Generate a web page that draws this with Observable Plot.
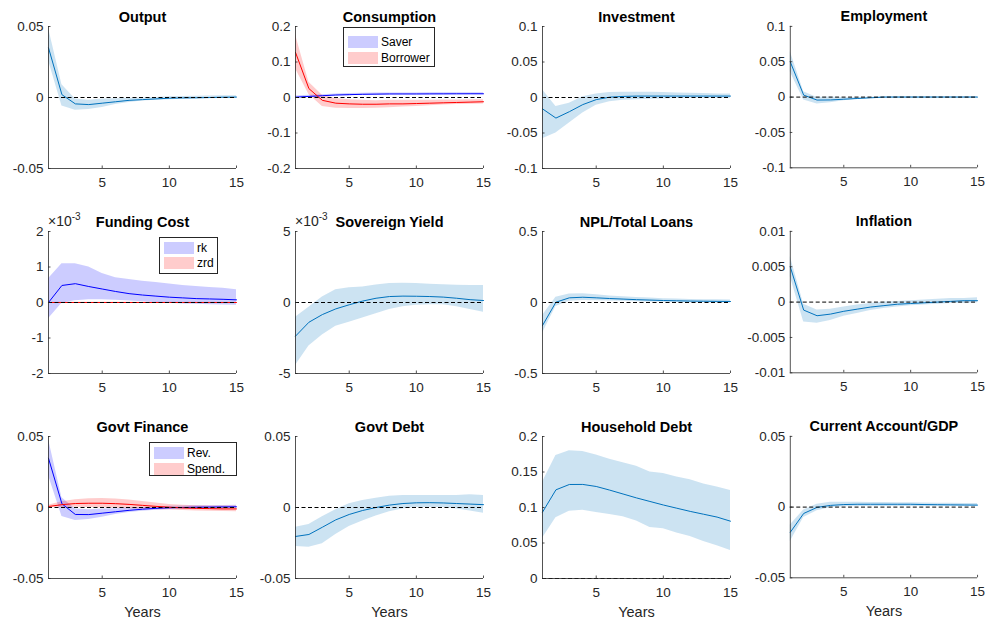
<!DOCTYPE html>
<html><head><meta charset="utf-8">
<script src="https://cdn.jsdelivr.net/npm/d3@7"></script>
<script src="https://cdn.jsdelivr.net/npm/@observablehq/plot@0.6"></script>
<style>
body{margin:0;background:#fff;}
#chart{position:relative;width:987px;height:624px;font-family:"Liberation Sans",Arial,Helvetica,sans-serif;overflow:hidden;background:#fff;}
.cell{position:absolute;}
.legend{position:absolute;box-sizing:border-box;border:1px solid #262626;background:#fff;font-size:12px;color:#000;}
.legend .patch{position:absolute;left:4px;width:30px;height:12px;}
.legend .lab{position:absolute;left:37px;line-height:14px;white-space:nowrap;}
.expo{position:absolute;font-size:14px;line-height:14px;color:#262626;white-space:nowrap;}
.expo sup{font-size:10px;vertical-align:6px;line-height:0;}
</style></head>
<body><div id="chart"></div>
<script>
const years = [1,2,3,4,5,6,7,8,9,10,11,12,13,14,15];
const xTicks = [5,10,15];

// Output
const outputMid = [0.035,0.002,-0.0045,-0.005,-0.004,-0.003,-0.002,-0.0015,-0.001,-0.0005,-0.0003,-0.0002,0,0.0002,0.0003];
const outputLo  = [0.026,-0.006,-0.009,-0.0085,-0.007,-0.005,-0.0035,-0.0025,-0.002,-0.0015,-0.0012,-0.001,-0.0008,-0.0007,-0.0007];
const outputHi  = [0.049,0.009,-0.001,-0.002,-0.001,-0.0008,-0.0005,-0.0003,0,0.0005,0.0007,0.0008,0.001,0.0012,0.0013];
// Consumption
const saverMid = [0.001,0.003,0.005,0.007,0.008,0.009,0.0095,0.01,0.01,0.01,0.0102,0.0103,0.0104,0.0105,0.0105];
const saverLo  = [-0.002,0,0.002,0.004,0.005,0.006,0.0065,0.007,0.007,0.007,0.0072,0.0073,0.0074,0.0075,0.0075];
const saverHi  = [0.004,0.006,0.008,0.010,0.011,0.012,0.0125,0.013,0.013,0.013,0.0132,0.0133,0.0134,0.0135,0.0135];
const borrowerMid = [0.127,0.025,-0.008,-0.016,-0.018,-0.019,-0.019,-0.018,-0.018,-0.017,-0.016,-0.015,-0.014,-0.013,-0.012];
const borrowerLo  = [0.081,0.0085,-0.025,-0.030,-0.031,-0.031,-0.030,-0.029,-0.027,-0.025,-0.023,-0.021,-0.020,-0.019,-0.018];
const borrowerHi  = [0.177,0.043,0.006,-0.003,-0.006,-0.008,-0.009,-0.008,-0.008,-0.008,-0.008,-0.007,-0.007,-0.006,-0.006];
// Investment
const investMid = [-0.016,-0.029,-0.02,-0.01,-0.003,0.0005,0.0015,0.002,0.002,0.002,0.002,0.002,0.002,0.002,0.002];
const investLo  = [-0.058,-0.05,-0.036,-0.022,-0.011,-0.006,-0.004,-0.003,-0.0025,-0.002,-0.0015,-0.0012,-0.001,-0.001,-0.001];
const investHi  = [0.011,-0.0127,-0.008,0.001,0.005,0.007,0.0075,0.0075,0.0075,0.007,0.0065,0.006,0.0055,0.005,0.005];
// Employment
const employMid = [0.0497,0.0028,-0.0042,-0.004,-0.003,-0.002,-0.001,0,0,0,0,0,0,0,0];
const employLo  = [0.0356,-0.004,-0.0099,-0.008,-0.005,-0.003,-0.0018,-0.001,-0.0008,-0.0006,-0.0005,-0.0005,-0.0005,-0.0005,-0.0005];
const employHi  = [0.064,0.0075,-0.0005,0,-0.0008,-0.0007,-0.0003,0.0005,0.0007,0.0007,0.0007,0.0007,0.0007,0.0007,0.0007];
// Funding Cost (x10^-3)
const rkMid = [0,0.48e-3,0.53e-3,0.45e-3,0.38e-3,0.31e-3,0.25e-3,0.21e-3,0.18e-3,0.15e-3,0.13e-3,0.11e-3,0.10e-3,0.09e-3,0.075e-3];
const rkLo  = [-0.46e-3,-0.02e-3,0.05e-3,0.08e-3,0.08e-3,0.06e-3,0.04e-3,0.02e-3,0,-0.02e-3,-0.04e-3,-0.05e-3,-0.06e-3,-0.07e-3,-0.08e-3];
const rkHi  = [0.67e-3,1.09e-3,1.09e-3,1.0e-3,0.82e-3,0.70e-3,0.65e-3,0.60e-3,0.56e-3,0.52e-3,0.48e-3,0.45e-3,0.42e-3,0.40e-3,0.36e-3];
const zrdMid = [0,0,0,0,0,0,0,0,0,0,0,0,0,0,0];
const zrdLo  = [-0.01e-3,-0.01e-3,-0.01e-3,-0.01e-3,-0.01e-3,-0.01e-3,-0.01e-3,-0.01e-3,-0.01e-3,-0.01e-3,-0.01e-3,-0.01e-3,-0.01e-3,-0.01e-3,-0.01e-3];
const zrdHi  = [0.01e-3,0.01e-3,0.01e-3,0.01e-3,0.01e-3,0.01e-3,0.01e-3,0.01e-3,0.01e-3,0.01e-3,0.01e-3,0.01e-3,0.01e-3,0.01e-3,0.01e-3];
// Sovereign Yield (x10^-3)
const sovMid = [-2.37e-3,-1.39e-3,-0.85e-3,-0.45e-3,-0.16e-3,0.1e-3,0.3e-3,0.42e-3,0.45e-3,0.44e-3,0.42e-3,0.38e-3,0.3e-3,0.2e-3,0.14e-3];
const sovLo  = [-4.43e-3,-3.07e-3,-2.28e-3,-1.67e-3,-1.39e-3,-1.1e-3,-0.8e-3,-0.5e-3,-0.3e-3,-0.2e-3,-0.15e-3,-0.15e-3,-0.3e-3,-0.5e-3,-0.68e-3];
const sovHi  = [-1.03e-3,-0.33e-3,0.38e-3,0.89e-3,1.03e-3,1.1e-3,1.24e-3,1.33e-3,1.36e-3,1.33e-3,1.28e-3,1.25e-3,1.22e-3,1.2e-3,1.2e-3];
// NPL/Total Loans
const nplMid = [-0.162,0.002,0.033,0.037,0.033,0.028,0.024,0.02,0.017,0.014,0.012,0.01,0.009,0.008,0.007];
const nplLo  = [-0.216,-0.028,0.008,0.014,0.012,0.01,0.008,0.006,0.004,0.002,0,-0.001,-0.002,-0.003,-0.003];
const nplHi  = [-0.092,0.037,0.06,0.062,0.055,0.046,0.04,0.035,0.031,0.027,0.024,0.022,0.02,0.019,0.018];
// Inflation
const inflMid = [0.00497,-0.00113,-0.00193,-0.0017,-0.0013,-0.001,-0.0007,-0.0005,-0.0003,-0.0002,-0.0001,0,0.0001,0.0002,0.0002];
const inflLo  = [0.0036,-0.0028,-0.003,-0.0026,-0.002,-0.0016,-0.0012,-0.0009,-0.0007,-0.0005,-0.0004,-0.0003,-0.0002,-0.0002,-0.0001];
const inflHi  = [0.0064,-0.0003,-0.0011,-0.001,-0.0007,-0.0004,-0.0002,0,0.0001,0.0002,0.0003,0.0004,0.0005,0.0005,0.0006];
// Govt Finance
const revMid = [0.0347,0.0026,-0.0049,-0.005,-0.004,-0.003,-0.002,-0.0012,-0.0006,-0.0002,0,0.0002,0.0003,0.0004,0.0005];
const revLo  = [0.0225,-0.0063,-0.0092,-0.0085,-0.0068,-0.005,-0.0036,-0.0026,-0.0019,-0.0014,-0.0011,-0.0009,-0.0008,-0.0007,-0.0006];
const revHi  = [0.048,0.0068,-0.001,-0.0015,-0.001,-0.0008,-0.0004,0,0.0004,0.0008,0.001,0.0012,0.0013,0.0014,0.0015];
const spendMid = [0.0007,0.002,0.0028,0.003,0.003,0.0027,0.0022,0.0015,0.0008,0.0002,-0.0003,-0.0006,-0.0008,-0.001,-0.001];
const spendLo  = [0,0,0.0002,0,-0.0003,-0.0006,-0.0008,-0.0012,-0.0016,-0.0018,-0.0021,-0.0024,-0.0026,-0.0028,-0.003];
const spendHi  = [0.0015,0.004,0.0055,0.0062,0.0063,0.006,0.0052,0.0042,0.0032,0.0022,0.0015,0.0012,0.001,0.001,0.001];
// Govt Debt
const gdebtMid = [-0.0204,-0.019,-0.0139,-0.0087,-0.0049,-0.0021,0,0.0017,0.0028,0.0033,0.0034,0.0032,0.0028,0.0024,0.002];
const gdebtLo  = [-0.0275,-0.028,-0.0256,-0.019,-0.0134,-0.0095,-0.006,-0.003,-0.001,0,0,0,-0.001,-0.0025,-0.004];
const gdebtHi  = [-0.0139,-0.012,-0.0065,-0.0016,0.0026,0.005,0.0065,0.008,0.0085,0.0085,0.0085,0.0085,0.0085,0.009,0.0085];
// Household Debt
const hdebtMid = [0.0934,0.1249,0.1324,0.1325,0.1296,0.1245,0.119,0.1135,0.1085,0.1035,0.099,0.0945,0.0905,0.0865,0.0807];
const hdebtLo  = [0.0568,0.0854,0.0948,0.096,0.093,0.09,0.087,0.081,0.072,0.07,0.064,0.059,0.052,0.046,0.0394];
const hdebtHi  = [0.1356,0.1732,0.18,0.179,0.174,0.168,0.163,0.158,0.15,0.148,0.143,0.139,0.133,0.129,0.124];
// Current Account/GDP
const caMid = [-0.0178,-0.0045,-0.0002,0.0012,0.0018,0.002,0.002,0.002,0.002,0.002,0.0018,0.0017,0.0016,0.0015,0.0014];
const caLo  = [-0.0244,-0.0073,-0.0025,-0.0005,0.0003,0.0005,0.0005,0.0005,0.0005,0.0005,0.0005,0.0005,0.0005,0.0005,0.0005];
const caHi  = [-0.0127,-0.002,0.002,0.0035,0.0035,0.0034,0.0033,0.0032,0.0031,0.003,0.0029,0.0028,0.0027,0.0026,0.0025];

const BLUE = "#0072BD", PURE_BLUE = "#0000FF", RED = "#FF0000";
const milli = d => String(Math.round(d * 1e3));

const panels = [
  {title:"Output", yd:[-0.05,0.05], yt:[-0.05,0,0.05], s:[[outputMid,outputLo,outputHi,BLUE]]},
  {title:"Consumption", yd:[-0.2,0.2], yt:[-0.2,-0.1,0,0.1,0.2], s:[[saverMid,saverLo,saverHi,PURE_BLUE],[borrowerMid,borrowerLo,borrowerHi,RED]],
   legend:{left:343,top:27,w:92,h:40,rows:[["Saver",PURE_BLUE,15],["Borrower",RED,31]]}},
  {title:"Investment", yd:[-0.1,0.1], yt:[-0.1,-0.05,0,0.05,0.1], s:[[investMid,investLo,investHi,BLUE]]},
  {title:"Employment", yd:[-0.1,0.1], yt:[-0.1,-0.05,0,0.05,0.1], s:[[employMid,employLo,employHi,BLUE]]},
  {title:"Funding Cost", yd:[-0.002,0.002], yt:[-0.002,-0.001,0,0.001,0.002], fmt:milli, expo:true, s:[[rkMid,rkLo,rkHi,PURE_BLUE],[zrdMid,zrdLo,zrdHi,RED]],
   legend:{left:159,top:237,w:59,h:37,rows:[["rk",PURE_BLUE,11],["zrd",RED,26]]}},
  {title:"Sovereign Yield", yd:[-0.005,0.005], yt:[-0.005,0,0.005], fmt:milli, expo:true, s:[[sovMid,sovLo,sovHi,BLUE]]},
  {title:"NPL/Total Loans", yd:[-0.5,0.5], yt:[-0.5,0,0.5], s:[[nplMid,nplLo,nplHi,BLUE]]},
  {title:"Inflation", yd:[-0.01,0.01], yt:[-0.01,-0.005,0,0.005,0.01], s:[[inflMid,inflLo,inflHi,BLUE]]},
  {title:"Govt Finance", yd:[-0.05,0.05], yt:[-0.05,0,0.05], s:[[revMid,revLo,revHi,PURE_BLUE],[spendMid,spendLo,spendHi,RED]],
   legend:{left:149,top:442,w:88,h:34,rows:[["Rev.",PURE_BLUE,11],["Spend.",RED,27]]}},
  {title:"Govt Debt", yd:[-0.05,0.05], yt:[-0.05,0,0.05], s:[[gdebtMid,gdebtLo,gdebtHi,BLUE]]},
  {title:"Household Debt", yd:[0,0.2], yt:[0,0.05,0.1,0.15,0.2], s:[[hdebtMid,hdebtLo,hdebtHi,BLUE]]},
  {title:"Current Account/GDP", yd:[-0.05,0.05], yt:[-0.05,0,0.05], s:[[caMid,caLo,caHi,BLUE]]}
];

const plotLefts = [48, 295, 542, 790];
const plotTops = [26, 231, 436];
const PW = 188, PH = 142, ML = 48, MT = 26, MR = 10;
const AX = "#262626";
const chart = document.getElementById("chart");

panels.forEach((p, i) => {
  const r = Math.floor(i / 4), c = i % 4;
  const MB = r === 2 ? 46 : 30;
  const marks = [];
  const sets = p.s.map(([mid, lo, hi, color]) => ({color, data: years.map((x, k) => ({x, mid: mid[k], lo: lo[k], hi: hi[k]}))}));
  for (const s of sets) marks.push(Plot.areaY(s.data, {x: "x", y1: "lo", y2: "hi", fill: s.color, fillOpacity: 0.2}));
  for (const s of sets) marks.push(Plot.lineY(s.data, {x: "x", y: "mid", stroke: s.color, strokeWidth: 1}));
  marks.push(Plot.ruleY([0], {stroke: "#000", strokeWidth: 1, strokeDasharray: "4,2.5"}));
  // axis lines (box off)
  marks.push(Plot.ruleX([1], {stroke: AX, strokeWidth: 0.8}));
  marks.push(Plot.ruleY([p.yd[0]], {stroke: AX, strokeWidth: 0.8}));
  // inward ticks
  marks.push(Plot.tickX(xTicks, {x: d => d, stroke: AX, strokeWidth: 0.8, insetTop: PH - 2.5}));
  marks.push(Plot.tickY(p.yt, {y: d => d, stroke: AX, strokeWidth: 0.8, insetRight: PW - 2.5}));
  marks.push(Plot.axisX(xTicks, {tickSize: 0, tickPadding: 9, label: null, fontSize: 13.5, color: AX}));
  marks.push(Plot.axisY(p.yt, {tickSize: 0, tickPadding: 5, label: null, fontSize: 13.5, color: AX, tickFormat: p.fmt || (d => String(d))}));
  marks.push(Plot.text([p.title], {frameAnchor: "top", lineAnchor: "bottom", dy: -5, fontSize: 14.5, fontWeight: "bold", fill: "#000"}));
  if (r === 2) marks.push(Plot.text(["Years"], {frameAnchor: "bottom", lineAnchor: "middle", dy: 34, fontSize: 14.5, fill: AX}));
  const svg = Plot.plot({
    width: ML + PW + MR, height: MT + PH + MB,
    marginLeft: ML, marginTop: MT, marginRight: MR, marginBottom: MB,
    x: {domain: [1, 15]},
    y: {domain: p.yd},
    style: {fontFamily: '"Liberation Sans", Arial, Helvetica, sans-serif', fontSize: "13.5px", color: AX, background: "transparent", overflow: "visible"},
    marks
  });
  const cell = document.createElement("div");
  cell.className = "cell";
  cell.style.left = (plotLefts[c] - ML) + "px";
  cell.style.top = (plotTops[r] - MT) + "px";
  cell.appendChild(svg);
  chart.appendChild(cell);
  if (p.expo) {
    const e = document.createElement("div");
    e.className = "expo";
    e.style.left = plotLefts[c] + "px";
    e.style.top = (plotTops[r] - 17) + "px";
    e.innerHTML = "×10<sup>-3</sup>";
    chart.appendChild(e);
  }
  if (p.legend) {
    const L = p.legend;
    const lg = document.createElement("div");
    lg.className = "legend";
    lg.style.left = L.left + "px"; lg.style.top = L.top + "px";
    lg.style.width = L.w + "px"; lg.style.height = L.h + "px";
    for (const [label, color, cy] of L.rows) {
      const pa = document.createElement("div");
      pa.className = "patch";
      pa.style.top = (cy - 7) + "px";
      pa.style.background = color; pa.style.opacity = 0.2;
      lg.appendChild(pa);
      const t = document.createElement("div");
      t.className = "lab";
      t.style.top = (cy - 8) + "px";
      t.textContent = label;
      lg.appendChild(t);
    }
    chart.appendChild(lg);
  }
});
</script></body></html>
